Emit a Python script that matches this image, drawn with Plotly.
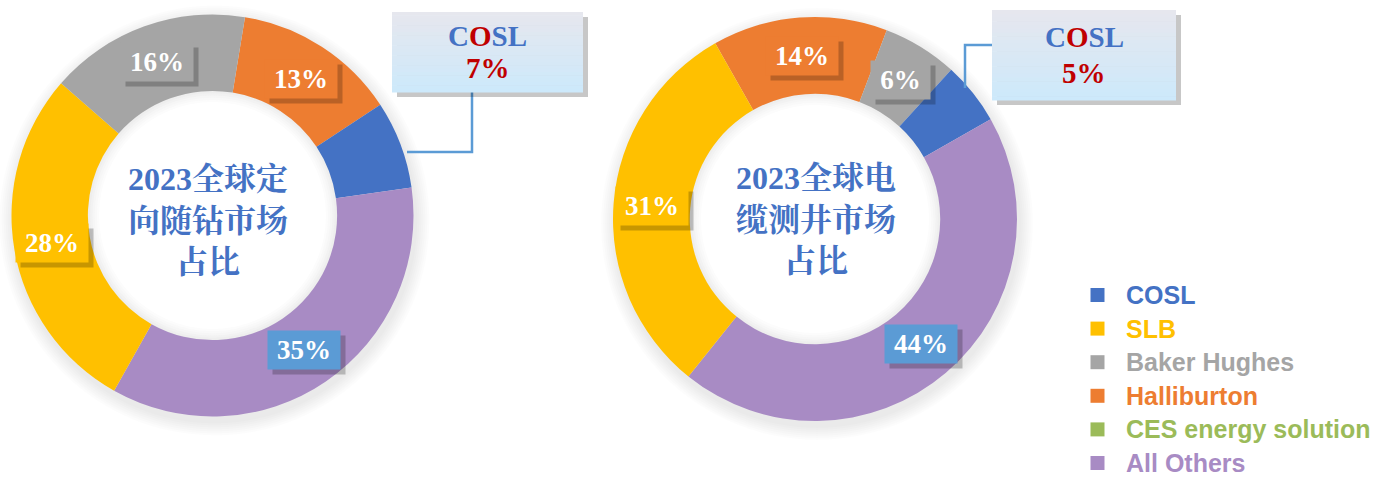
import math
import plotly.graph_objects as go

W, H = 1391, 478

# ---------------- data ----------------
left_labels = ["Halliburton", "COSL", "All Others", "SLB", "Baker Hughes"]
left_values = [13, 7, 35, 28, 16]
right_labels = ["Halliburton", "Baker Hughes", "COSL", "All Others", "SLB"]
right_values = [14, 6, 5, 44, 31]

legend_names = ["COSL", "SLB", "Baker Hughes", "Halliburton", "CES energy solution", "All Others"]
legend_colors = ["#4472C4", "#FFC000", "#A5A5A5", "#ED7D31", "#9BBB59", "#A88BC4"]

left_title = "2023全球定<br>向随钻市场<br>占比"
right_title = "2023全球电<br>缆测井市场<br>占比"
callout_name = "COSL"

# ---------------- style ----------------
color_map = dict(zip(legend_names, legend_colors))
OTHERS_BOX = "#5B9BD5"
SERIF = "Liberation Serif, Times New Roman, Noto Serif CJK SC, Noto Sans CJK SC, serif"
SANS = "Liberation Sans, Arial, sans-serif"
HOLE = 0.62

pies = [
    dict(labels=left_labels, values=left_values, cx=212.5, cy=215.5, r=201, rot=9.3,
         title=left_title, tshift=(-5, -5)),
    dict(labels=right_labels, values=right_values, cx=815, cy=219, r=202, rot=-29.6,
         title=right_title, tshift=(1, 0)),
]


def px(x):
    return x / W


def py(y):
    return 1 - y / H


fig = go.Figure()
shapes = []
annotations = []


def ann(**kw):
    base = dict(xref="paper", yref="paper", showarrow=False,
                xanchor="center", yanchor="middle")
    base.update(kw)
    annotations.append(base)


def circle(cx, cy, rr, fill, dx=0, dy=0):
    shapes.append(dict(type="circle", xref="paper", yref="paper", layer="below",
                       x0=px(cx - rr + dx), x1=px(cx + rr + dx),
                       y0=py(cy + rr + dy), y1=py(cy - rr + dy),
                       fillcolor=fill, line=dict(width=0)))


for p in pies:
    cx, cy, r = p["cx"], p["cy"], p["r"]
    # soft outer shadow
    for k in range(14, 0, -2):
        circle(cx, cy, r + k, "rgba(0,0,0,0.012)", dx=2, dy=5)
    rh = r * HOLE
    # white hole with a faint inner shade near the edge
    shades = ["#E9E9E9", "#EEEEEE", "#F2F2F2", "#F6F6F6", "#F9F9F9", "#FCFCFC", "#FFFFFF"]
    for j, col in enumerate(shades):
        circle(cx, cy, rh + 2 - j * 2.2, col)
    fig.add_trace(go.Pie(
        labels=p["labels"], values=p["values"], hole=HOLE, sort=False,
        direction="clockwise", rotation=p["rot"],
        marker=dict(colors=[color_map[l] for l in p["labels"]], line=dict(width=0)),
        textinfo="none", hoverinfo="label+percent", showlegend=False,
        domain=dict(x=[px(cx - r), px(cx + r)], y=[py(cy + r), py(cy - r)]),
    ))
    # center title
    ann(x=px(cx), y=py(cy), text=f"<b>{p['title']}</b>",
        xshift=p["tshift"][0], yshift=p["tshift"][1],
        font=dict(family=SERIF, size=32, color="#4472C4"), align="center")
    # percentage boxes at mid angle of each slice
    total = sum(p["values"])
    ang = p["rot"]
    rmid = r * (1 + HOLE) / 2
    for lab, v in zip(p["labels"], p["values"]):
        span = v / total * 360
        mid = math.radians(ang + span / 2)
        ang += span
        if lab == callout_name:
            continue
        lx = cx + rmid * math.sin(mid)
        ly = cy - rmid * math.cos(mid)
        bw = 70 if v >= 10 else 57
        bg = OTHERS_BOX if lab == "All Others" else color_map[lab]
        ann(x=px(lx), y=py(ly), text=" ", width=bw, height=36,
            xshift=5, yshift=-5, bgcolor="rgba(0,0,0,0.22)")
        ann(x=px(lx), y=py(ly), text=f"<b>{v}%</b>", width=bw, height=36,
            bgcolor=bg, valign="middle",
            font=dict(family=SERIF, size=27, color="white"))

# ---------------- COSL callouts ----------------
cosl_left = left_values[left_labels.index(callout_name)]
cosl_right = right_values[right_labels.index(callout_name)]
callouts = [
    dict(box=(392, 12, 583, 92), val=cosl_left,
         path=[(472, 92), (472, 152), (407, 152)]),
    dict(box=(992, 10, 1176, 100), val=cosl_right,
         path=[(995, 45), (965, 45), (965, 88)]),
]


def mix(c1, c2, t):
    a = [int(c1[i:i + 2], 16) for i in (1, 3, 5)]
    b = [int(c2[i:i + 2], 16) for i in (1, 3, 5)]
    return "rgb(%d,%d,%d)" % tuple(round(a[i] + (b[i] - a[i]) * t) for i in range(3))


for c in callouts:
    x0, y0, x1, y1 = c["box"]
    pts = c["path"]
    d = "M " + " L ".join(f"{px(x)},{py(y)}" for x, y in pts)
    shapes.append(dict(type="path", path=d, xref="paper", yref="paper",
                       line=dict(color="#5B9BD5", width=2.5), layer="above"))
    shapes.append(dict(type="rect", xref="paper", yref="paper",
                       x0=px(x0 + 5), x1=px(x1 + 5), y0=py(y1 + 5), y1=py(y0 + 5),
                       fillcolor="rgba(0,0,0,0.22)", line=dict(width=0), layer="above"))
    n = 24
    for i in range(n):
        ya = y0 + (y1 - y0) * i / n
        yb = y0 + (y1 - y0) * (i + 1) / n
        shapes.append(dict(type="rect", xref="paper", yref="paper",
                           x0=px(x0), x1=px(x1), y0=py(yb + 0.5), y1=py(ya),
                           fillcolor=mix("#E6E7EE", "#CDE9FB", i / (n - 1)),
                           line=dict(width=0), layer="above"))
    xm = (x0 + x1) / 2
    hgt = y1 - y0
    ann(x=px(xm), y=py(y0 + hgt * 0.30),
        text=("<b><span style='color:#4472C4'>C</span>"
              "<span style='color:#C00000'>O</span>"
              "<span style='color:#4472C4'>SL</span></b>"),
        font=dict(family=SERIF, size=29, color="#4472C4"))
    ann(x=px(xm), y=py(y0 + hgt * 0.70), text=f"<b>{c['val']}%</b>",
        font=dict(family=SERIF, size=29, color="#C00000"))

# ---------------- legend ----------------
lx0, ly0, step, sq = 1090.5, 295, 33.6, 14
for i, (name, col) in enumerate(zip(legend_names, legend_colors)):
    yc = ly0 + i * step
    shapes.append(dict(type="rect", xref="paper", yref="paper",
                       x0=px(lx0), x1=px(lx0 + sq), y0=py(yc + sq / 2), y1=py(yc - sq / 2),
                       fillcolor=col, line=dict(width=0)))
    ann(x=px(1124), y=py(yc), xanchor="left", text=f"<b>{name}</b>",
        font=dict(family=SANS, size=25, color=col))

fig.update_layout(
    width=W, height=H, margin=dict(l=0, r=0, t=0, b=0),
    paper_bgcolor="white", plot_bgcolor="white",
    shapes=shapes, annotations=annotations, showlegend=False,
)

fig.write_html("out.html", config=dict(displayModeBar=False),
               post_script="document.body.style.margin='0';document.body.style.overflow='hidden';")
